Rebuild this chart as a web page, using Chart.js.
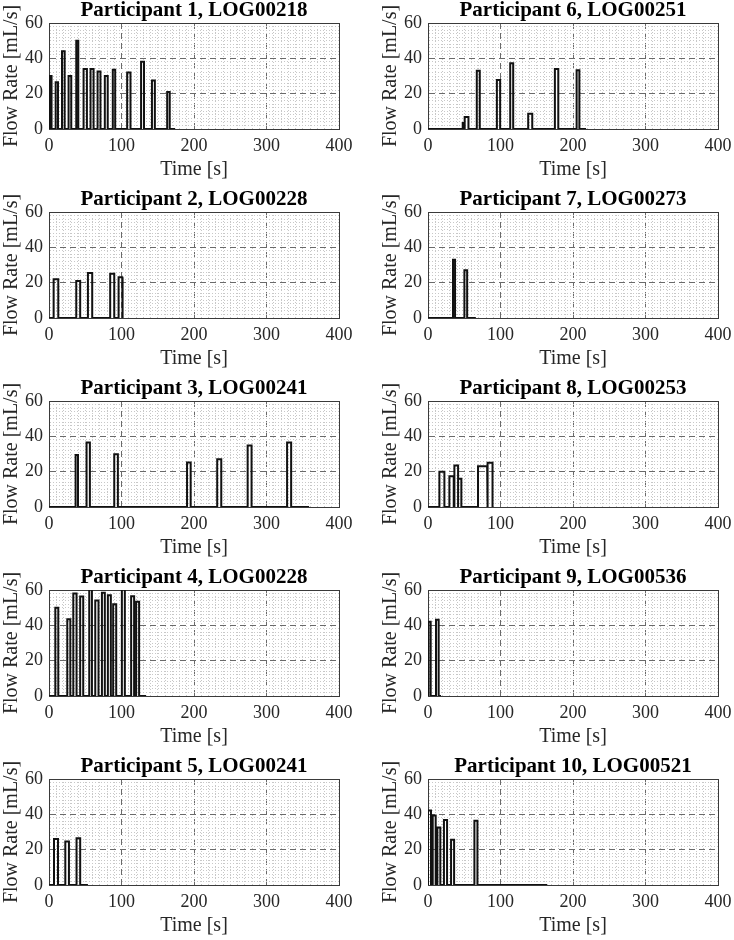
<!DOCTYPE html>
<html><head><meta charset="utf-8">
<script src="https://cdn.jsdelivr.net/npm/chart.js@4"></script>
<style>
html,body{margin:0;padding:0;background:#fff;width:734px;height:940px;overflow:hidden;position:relative}
canvas.panel{position:absolute}
</style></head><body>
<script>
// ---- data ----
const titles = [
  'Participant 1, LOG00218','Participant 2, LOG00228','Participant 3, LOG00241',
  'Participant 4, LOG00228','Participant 5, LOG00241','Participant 6, LOG00251',
  'Participant 7, LOG00273','Participant 8, LOG00253','Participant 9, LOG00536',
  'Participant 10, LOG00521'
];
// pulse start [s], stop [s], flow rate [mL/s]
const p1Start = [1, 9.2, 17.9, 27, 37.6, 47.7, 57.3, 67, 77, 88, 107.8, 127, 142, 163];
const p1Stop  = [3.5, 12.4, 21.6, 30.7, 40.4, 52.3, 61.5, 71, 81, 91.3, 112.4, 131, 146, 166.5];
const p1Rate  = [30, 26.5, 44, 30, 50, 34, 34, 32.5, 30, 33.5, 32, 38, 27.5, 21];

const p2Start = [6.4, 37.6, 53.7, 84.4, 96];
const p2Stop  = [12.8, 43, 59.6, 90, 101];
const p2Rate  = [22, 21, 25.5, 25, 23];

const p3Start = [36.7, 51.8, 90, 190.4, 232, 274, 328.4];
const p3Stop  = [40, 56.4, 95, 195.4, 237.6, 279.4, 334];
const p3Rate  = [29.5, 36.5, 29.8, 25.2, 27, 34.8, 36.5];

const p4Start = [8.7, 25.2, 33.5, 43, 55.5, 63.8, 73, 81.2, 88.5, 100.5, 113.3, 120.2];
const p4Stop  = [12.8, 29.4, 38, 47.2, 59.2, 68.3, 77, 85.3, 92.7, 104.6, 117.4, 124.3];
const p4Rate  = [50, 43.5, 58, 56.3, 61, 54, 58.5, 57, 52, 61, 56.4, 53.3];

const p5Start = [6.9, 22.5, 38];
const p5Stop  = [12.4, 27.5, 43];
const p5Rate  = [26.1, 24.6, 26.5];

const p6Start = [47.9, 51, 67.3, 95, 113.4, 138.2, 175, 205];
const p6Stop  = [49.8, 55.8, 71.4, 99.5, 117.5, 143.8, 179.7, 208.8];
const p6Rate  = [3.4, 6.8, 33, 27.7, 37.2, 8.7, 34, 33.2];

const p7Start = [34.5, 50.2];
const p7Stop  = [37.3, 54];
const p7Rate  = [33, 27];

const p8Start = [15.7, 29.5, 36.4, 41.5, 69, 82.5];
const p8Stop  = [22.6, 35.5, 41.5, 46, 81.6, 89];
const p8Rate  = [19.9, 17.4, 23.5, 16, 23.1, 25];

const p9Start = [0.5, 11];
const p9Stop  = [3.7, 14.7];
const p9Rate  = [42, 43.2];

const p10Start = [0, 6.5, 12.9, 22, 31.8, 64];
const p10Stop  = [4.1, 10.6, 17, 26.3, 36, 68.2];
const p10Rate  = [42.1, 39.3, 32.5, 36.8, 25.6, 36.3];

const traceEnd = [174, 102, 358.7, 134, 53.7, 218, 66, 90, 18, 164.5];

const xMajorTicks = [0, 100, 200, 300, 400];
const yMajorTicks = [0, 20, 40, 60];
const xMinorStep = 10;
const yMinorStep = 2;

const starts = [p1Start,p2Start,p3Start,p4Start,p5Start,p6Start,p7Start,p8Start,p9Start,p10Start];
const stops  = [p1Stop,p2Stop,p3Stop,p4Stop,p5Stop,p6Stop,p7Stop,p8Stop,p9Stop,p10Stop];
const rates  = [p1Rate,p2Rate,p3Rate,p4Rate,p5Rate,p6Rate,p7Rate,p8Rate,p9Rate,p10Rate];

// ---- drawing ----
const FONT = "'Liberation Serif','Times New Roman',serif";
const BOX = '#3a3a3a';
const MAJOR = '#6a6a6a';
const MINOR = '#c8c8c8';

function stepTrace(i){
  const pts = [{x:0,y:0}];
  for (let k=0;k<starts[i].length;k++){
    pts.push({x:starts[i][k],y:0},{x:starts[i][k],y:rates[i][k]},{x:stops[i][k],y:rates[i][k]},{x:stops[i][k],y:0});
  }
  pts.push({x:traceEnd[i],y:0});
  return pts;
}

const X0 = [49, 428];
const PLOT_TOP0 = 23, ROW_STEP = 189;

for (let i=0;i<10;i++){
  const col = Math.floor(i/5), row = i%5;
  const cv = document.createElement('canvas');
  cv.className='panel';
  cv.width = 367; cv.height = 190;
  cv.style.left = (X0[col]-49)+'px';
  cv.style.top = (PLOT_TOP0 + ROW_STEP*row - 23)+'px';
  document.body.appendChild(cv);

  const xMax = xMajorTicks[xMajorTicks.length-1];
  const yMax = yMajorTicks[yMajorTicks.length-1];
  const gridCol = (major, max) => (ctx) => {
    const v = ctx.tick ? ctx.tick.value : null;
    if (v === null) return BOX;
    if (v === max) return BOX;
    if (v === 0) return 'rgba(0,0,0,0)';
    return major.includes(v) ? MAJOR : MINOR;
  };
  const gridDash = (major, max) => (ctx) => {
    const v = ctx.tick ? ctx.tick.value : null;
    if (v === null || v === 0 || v === max) return [];
    return major.includes(v) ? [6,4] : [1,2];
  };

  new Chart(cv, {
    type:'scatter',
    data:{datasets:[{data:stepTrace(i), showLine:true, borderColor:'#111', borderWidth:2,
      pointRadius:0, pointHoverRadius:0, fill:false, tension:0}]},
    options:{
      responsive:false, animation:false, devicePixelRatio:1,
      layout:{padding:{left:0,right:28,top:0,bottom:0}},
      plugins:{
        legend:{display:false}, tooltip:{enabled:false},
        title:{display:true, text:titles[i], fullSize:false, color:'#000',
          font:{family:FONT,size:21,weight:'bold',lineHeight:1}, padding:{top:0,bottom:2}}
      },
      scales:{
        x:{type:'linear', min:0, max:xMax,
          afterFit(s){ s.height = 61; },
          ticks:{stepSize:xMinorStep, maxTicksLimit:1000, autoSkip:false, maxRotation:0, minRotation:0,
            padding:6, color:'#262626', font:{family:FONT,size:18},
            callback:(v)=> xMajorTicks.includes(v) ? String(v) : ''},
          grid:{drawTicks:false, lineWidth:1, color:gridCol(xMajorTicks,xMax)},
          border:{display:true, color:BOX, width:1, dash:gridDash(xMajorTicks,xMax)},
          title:{display:true, text:'Time [s]', color:'#262626', font:{family:FONT,size:20}, padding:{top:0,bottom:8}}
        },
        y:{type:'linear', min:0, max:yMax,
          afterFit(s){ s.width = 49; },
          ticks:{stepSize:yMinorStep, maxTicksLimit:1000, autoSkip:false,
            padding:6, color:'#262626', font:{family:FONT,size:18},
            callback:(v)=> yMajorTicks.includes(v) ? String(v) : ''},
          grid:{drawTicks:false, lineWidth:1, color:gridCol(yMajorTicks,yMax)},
          border:{display:true, color:BOX, width:1, dash:gridDash(yMajorTicks,yMax)},
          title:{display:true, text:'Flow Rate [mL/s]', color:'#262626', font:{family:FONT,size:20}, padding:{top:0,bottom:0}}
        }
      }
    }
  });
}
</script>
</body></html>
